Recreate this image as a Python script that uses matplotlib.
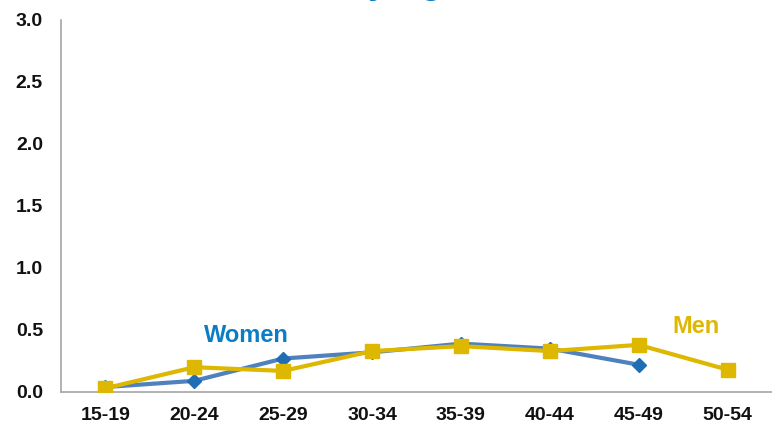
import matplotlib
matplotlib.use("Agg")
import matplotlib.pyplot as plt

plt.rcParams['font.family'] = ['Liberation Sans', 'DejaVu Sans']

age_groups = ["15-19", "20-24", "25-29", "30-34", "35-39", "40-44", "45-49", "50-54"]
women = [0.04, 0.09, 0.27, 0.32, 0.39, 0.35, 0.22]
men = [0.03, 0.20, 0.17, 0.33, 0.37, 0.33, 0.38, 0.18]
y_ticks = [0.0, 0.5, 1.0, 1.5, 2.0, 2.5, 3.0]

women_line = "#4F81BD"
women_marker = "#1F6DB5"
women_text = "#0B7DC4"
men_color = "#DDB700"

fig = plt.figure(figsize=(7.72, 4.25), dpi=100)
ax = fig.add_axes([61 / 772, 1 - 392 / 425, 1 - 61 / 772, (392 - 20) / 425])

x_women = list(range(len(women)))
x_men = list(range(len(men)))

ax.plot(x_women, women, color=women_line, lw=3, marker="D", markersize=7,
        markerfacecolor=women_marker, markeredgecolor=women_marker, zorder=3)
ax.plot(x_men, men, color=men_color, lw=3, marker="s", markersize=10,
        markerfacecolor=men_color, markeredgecolor=men_color, zorder=4)

ax.set_xlim(-0.5, len(age_groups) - 0.5)
ax.set_ylim(0, 3.0)
ax.set_xticks(range(len(age_groups)))
ax.set_xticklabels(age_groups)
ax.set_yticks(y_ticks)
ax.set_yticklabels([f"{v:.1f}" for v in y_ticks])
ax.tick_params(axis="both", length=0, labelsize=14, colors="#111111")
ax.tick_params(axis="x", pad=11)
ax.tick_params(axis="y", pad=13)
for lab in ax.get_xticklabels() + ax.get_yticklabels():
    lab.set_fontweight("bold")

for side in ("top", "right"):
    ax.spines[side].set_visible(False)
for side in ("left", "bottom"):
    ax.spines[side].set_color("#A6A6A6")
    ax.spines[side].set_linewidth(1.2)

ax.text(1.59, 0.455, "Women", color=women_text, fontsize=17, fontweight="bold",
        ha="center", va="center")
ax.text(6.65, 0.53, "Men", color=men_color, fontsize=17, fontweight="bold",
        ha="center", va="center")

# Title sits mostly above the canvas; only descenders reach into view
fig.text(345 / 772, 1 + 7 / 425, "by age", color=women_text, fontsize=27,
         fontweight="bold", ha="left", va="baseline")

fig.savefig("out.png", dpi=100)
